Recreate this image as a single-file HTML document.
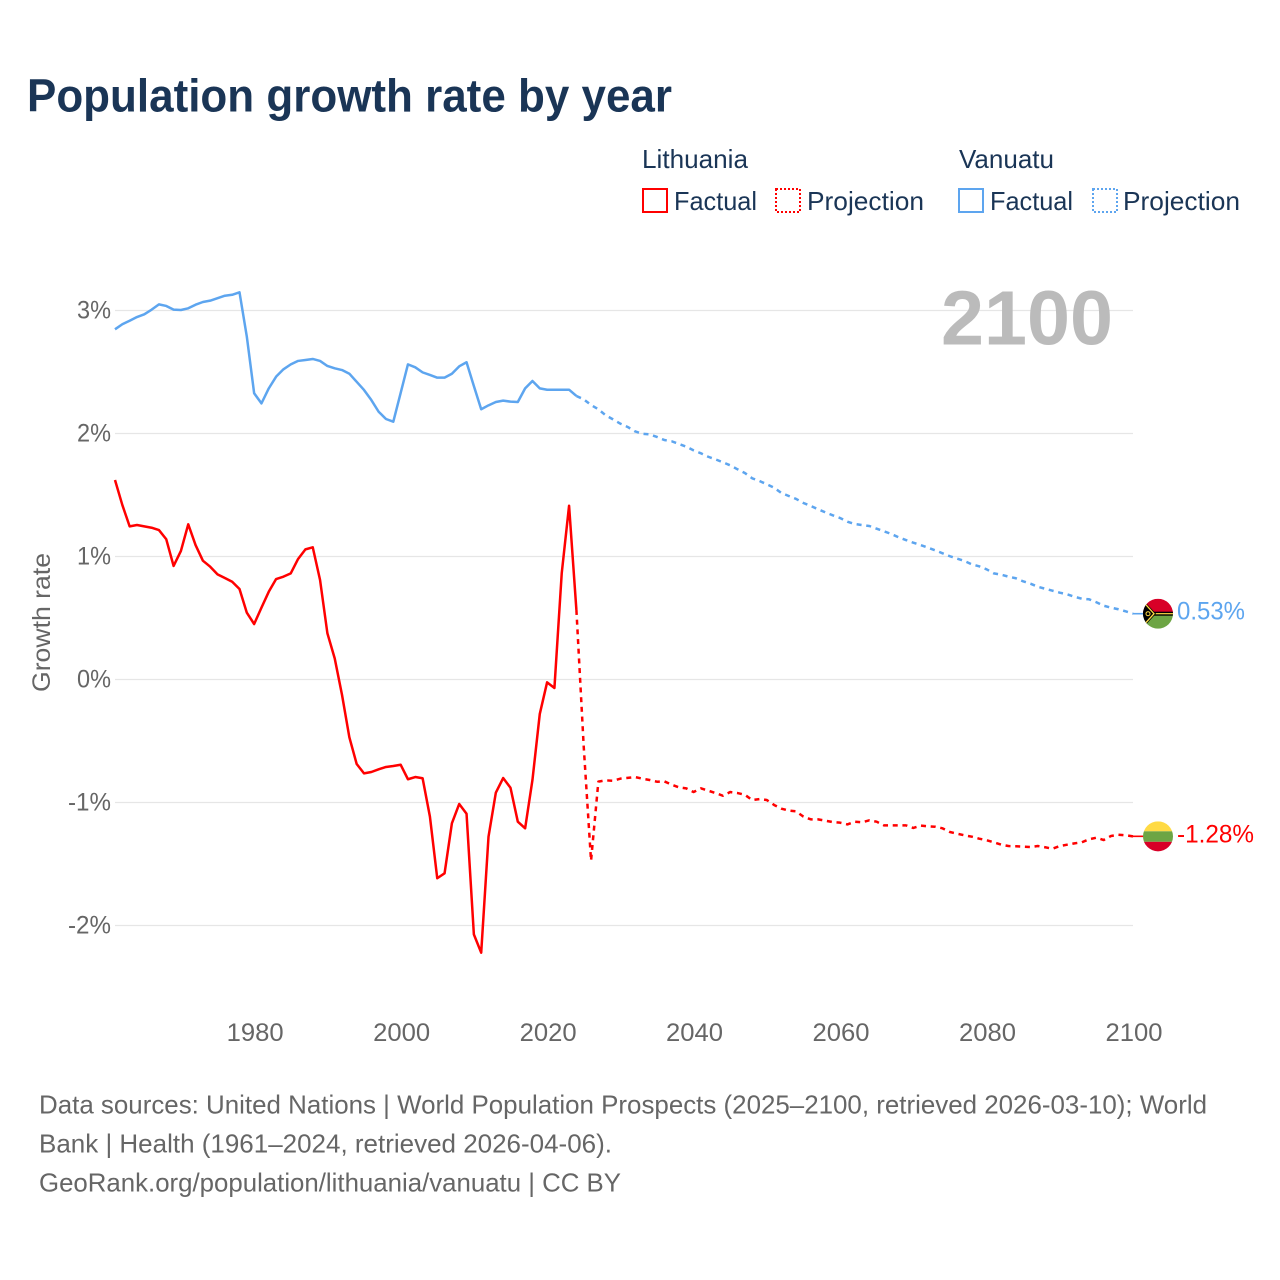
<!DOCTYPE html>
<html lang="en">
<head>
<meta charset="utf-8">
<title>Population growth rate by year</title>
<style>
html,body{margin:0;padding:0;background:#fff;}
svg{display:block;font-family:"Liberation Sans",sans-serif;}
</style>
</head>
<body>
<svg id="chart" xmlns="http://www.w3.org/2000/svg" width="1280" height="1280" viewBox="0 0 1280 1280">
  <defs>
    <clipPath id="flagClip"><circle cx="0" cy="0" r="15"/></clipPath>
  </defs>
  <rect x="0" y="0" width="1280" height="1280" fill="#ffffff"/>
  <text x="27" y="111.5" font-size="46" font-weight="700" fill="#1a3556" textLength="645" lengthAdjust="spacingAndGlyphs">Population growth rate by year</text>

  <g font-size="26" fill="#1a3556">
    <text x="642" y="168" textLength="106" lengthAdjust="spacingAndGlyphs">Lithuania</text>
    <text x="959" y="168" textLength="95" lengthAdjust="spacingAndGlyphs">Vanuatu</text>
    <rect x="643" y="189" width="24" height="23" fill="none" stroke="#ff0000" stroke-width="2"/>
    <text x="674" y="210" textLength="83" lengthAdjust="spacingAndGlyphs">Factual</text>
    <rect x="776" y="189" width="24" height="23" fill="none" stroke="#ff0000" stroke-width="2" stroke-dasharray="2,2"/>
    <text x="807" y="210" textLength="117" lengthAdjust="spacingAndGlyphs">Projection</text>
    <rect x="959" y="189" width="24" height="23" fill="none" stroke="#5da5ef" stroke-width="2"/>
    <text x="990" y="210" textLength="83" lengthAdjust="spacingAndGlyphs">Factual</text>
    <rect x="1093" y="189" width="24" height="23" fill="none" stroke="#5da5ef" stroke-width="2" stroke-dasharray="2,2"/>
    <text x="1123" y="210" textLength="117" lengthAdjust="spacingAndGlyphs">Projection</text>
  </g>

  <g id="grid"></g>
  <g id="yTicks"></g>
  <g id="xTicks"></g>
  <text transform="translate(50,692) rotate(-90)" font-size="25" fill="#666666" textLength="139" lengthAdjust="spacingAndGlyphs">Growth rate</text>
  <text x="941" y="344.5" font-size="77" font-weight="700" fill="#bbbbbb" textLength="172" lengthAdjust="spacingAndGlyphs">2100</text>

  <g id="series"></g>

  <g id="flagVanuatu" clip-path="url(#flagClip)">
    <rect x="-15" y="-15" width="30" height="15" fill="#d80027"/>
    <rect x="-15" y="0" width="30" height="15" fill="#6da544"/>
    <rect x="-15" y="-2" width="30" height="4" fill="#000000"/>
    <rect x="-4" y="-0.6" width="19" height="1.2" fill="#ffda44"/>
    <polygon points="-15,-14 -2,0 -15,14" fill="#000000"/>
    <polyline points="-13,-10 -4,0 -13,10" fill="none" stroke="#ffda44" stroke-width="1.3"/>
    <circle cx="-10" cy="0" r="2" fill="none" stroke="#ffda44" stroke-width="1"/>
  </g>
  <g id="flagLithuania" clip-path="url(#flagClip)">
    <rect x="-15" y="-15" width="30" height="10" fill="#ffda44"/>
    <rect x="-15" y="-5" width="30" height="10.5" fill="#6da544"/>
    <rect x="-15" y="5.5" width="30" height="10" fill="#d80027"/>
  </g>
  <g id="endLabels"></g>

  <g font-size="26" fill="#666666">
    <text x="39" y="1113.5" textLength="1168" lengthAdjust="spacingAndGlyphs">Data sources: United Nations | World Population Prospects (2025–2100, retrieved 2026-03-10); World</text>
    <text x="39" y="1152.5" textLength="573" lengthAdjust="spacingAndGlyphs">Bank | Health (1961–2024, retrieved 2026-04-06).</text>
    <text x="39" y="1191.5" textLength="582" lengthAdjust="spacingAndGlyphs">GeoRank.org/population/lithuania/vanuatu | CC BY</text>
  </g>
</svg>
<script>
const factualStartYear = 1961;
const projectionStartYear = 2024;
const yTickValues = [3, 2, 1, 0, -1, -2];
const yTickLabels = ["3%", "2%", "1%", "0%", "-1%", "-2%"];
const xTickValues = [1980, 2000, 2020, 2040, 2060, 2080, 2100];
const xTickLabels = ["1980", "2000", "2020", "2040", "2060", "2080", "2100"];
const endLabelVanuatu = "0.53%";
const endLabelLithuania = "-1.28%";

const vanuatuFactual = [
  2.847,2.888,2.917,2.947,2.969,3.007,3.05,3.037,3.007,3.004,
  3.018,3.047,3.069,3.08,3.10,3.12,3.128,3.148,2.787,2.327,
  2.245,2.367,2.462,2.522,2.562,2.59,2.598,2.606,2.59,2.549,
  2.53,2.516,2.486,2.42,2.354,2.272,2.177,2.118,2.096,2.329,
  2.562,2.538,2.497,2.476,2.454,2.454,2.486,2.546,2.579,2.386,
  2.197,2.229,2.256,2.267,2.259,2.256,2.367,2.427,2.367,2.356,
  2.356,2.356,2.356,2.305
];
const vanuatuProjection = [
  2.305,2.278,2.232,2.197,2.148,2.115,2.08,2.053,2.018,1.998,
  1.993,1.972,1.947,1.937,1.915,1.893,1.863,1.839,1.811,1.79,
  1.766,1.741,1.709,1.679,1.636,1.614,1.587,1.559,1.516,1.492,
  1.468,1.435,1.411,1.384,1.359,1.335,1.313,1.283,1.264,1.256,
  1.248,1.226,1.205,1.183,1.156,1.134,1.112,1.093,1.072,1.05,
  1.026,1.002,0.982,0.963,0.936,0.92,0.896,0.863,0.852,0.836,
  0.823,0.798,0.779,0.754,0.738,0.722,0.706,0.693,0.673,0.657,
  0.652,0.628,0.6,0.584,0.571,0.554,0.535
];
const lithuaniaFactual = [
  1.622,1.419,1.245,1.256,1.245,1.234,1.215,1.14,0.923,1.045,
  1.262,1.093,0.966,0.917,0.855,0.825,0.795,0.736,0.543,0.451,
  0.584,0.714,0.817,0.836,0.863,0.98,1.058,1.075,0.809,0.376,
  0.172,-0.126,-0.47,-0.687,-0.763,-0.752,-0.73,-0.711,-0.703,-0.693,
  -0.811,-0.793,-0.803,-1.115,-1.616,-1.576,-1.169,-1.012,-1.091,-2.072,
  -2.221,-1.278,-0.92,-0.801,-0.88,-1.156,-1.21,-0.817,-0.28,-0.023,
  -0.069,0.866,1.413,0.565
];
const lithuaniaProjection = [
  0.565,-0.546,-1.473,-0.83,-0.82,-0.823,-0.806,-0.80,-0.793,-0.806,
  -0.817,-0.831,-0.828,-0.855,-0.877,-0.885,-0.915,-0.885,-0.904,-0.923,
  -0.945,-0.915,-0.923,-0.937,-0.98,-0.972,-0.98,-1.02,-1.05,-1.066,
  -1.072,-1.115,-1.137,-1.137,-1.148,-1.159,-1.164,-1.178,-1.156,-1.161,
  -1.145,-1.156,-1.186,-1.186,-1.186,-1.186,-1.207,-1.188,-1.194,-1.197,
  -1.21,-1.24,-1.254,-1.267,-1.278,-1.294,-1.307,-1.324,-1.343,-1.354,
  -1.356,-1.359,-1.362,-1.354,-1.364,-1.376,-1.354,-1.343,-1.332,-1.324,
  -1.299,-1.286,-1.305,-1.272,-1.262,-1.267,-1.275
];

const NS = "http://www.w3.org/2000/svg";
const plotLeft = 115, plotRight = 1133;
function xScale(year) { return plotLeft + (year - 1961) * (plotRight - plotLeft) / 139; }
function yScale(v) { return 679.5 - v * 123; }

function make(tag, attrs, parent) {
  const el = document.createElementNS(NS, tag);
  for (const k in attrs) el.setAttribute(k, attrs[k]);
  parent.appendChild(el);
  return el;
}

const grid = document.getElementById("grid");
const yTicks = document.getElementById("yTicks");
yTickValues.forEach(function (v, i) {
  const line = make("line", { x1: plotLeft, x2: plotRight, y1: yScale(v), y2: yScale(v), stroke: "#e6e6e6", "stroke-width": 1.2 }, grid);
  
  
  const label = make("text", { x: 111, y: yScale(v) + 8, "text-anchor": "end", "font-size": 25, fill: "#666666", textLength: yTickLabels[i].length === 3 ? 43 : 34, lengthAdjust: "spacingAndGlyphs" }, yTicks);
  
  
  label.textContent = yTickLabels[i];
});

const xTicks = document.getElementById("xTicks");
xTickValues.forEach(function (v, i) {
  const label = make("text", { x: xScale(v) + 1, y: 1041, "text-anchor": "middle", "font-size": 25, fill: "#666666", textLength: 57, lengthAdjust: "spacingAndGlyphs" }, xTicks);
  
  
  label.textContent = xTickLabels[i];
});

function pathFor(values, startYear) {
  return values.map(function (v, i) {
    return (i ? "L" : "M") + xScale(startYear + i).toFixed(2) + " " + yScale(v).toFixed(2);
  }).join("");
}

const seriesGroup = document.getElementById("series");
function drawSeries(values, startYear, color, dashed) {
  const p = make("path", { d: pathFor(values, startYear), fill: "none", stroke: color, "stroke-width": 2.5, "stroke-linejoin": "round" }, seriesGroup);
  if (dashed) p.setAttribute("stroke-dasharray", "5,4.7");
  return p;
}
const lineVF = drawSeries(vanuatuFactual, factualStartYear, "#5da5ef", false);


const lineVP = drawSeries(vanuatuProjection, projectionStartYear, "#5da5ef", true);


const lineLF = drawSeries(lithuaniaFactual, factualStartYear, "#ff0000", false);


const lineLP = drawSeries(lithuaniaProjection, projectionStartYear, "#ff0000", true);



const endY_V = yScale(vanuatuProjection[vanuatuProjection.length - 1]);
const endY_L = yScale(lithuaniaProjection[lithuaniaProjection.length - 1]);
const flagX = 1158;

const leaderV = make("line", { x1: plotRight, x2: flagX - 14, y1: endY_V, y2: endY_V, stroke: "#5da5ef", "stroke-width": 1.6 }, seriesGroup);


const leaderL = make("line", { x1: plotRight, x2: flagX - 14, y1: endY_L, y2: endY_L, stroke: "#ff0000", "stroke-width": 1.6 }, seriesGroup);



document.getElementById("flagVanuatu").setAttribute("transform", "translate(" + flagX + "," + endY_V + ")");
document.getElementById("flagLithuania").setAttribute("transform", "translate(" + flagX + "," + endY_L + ")");

const endGroup = document.getElementById("endLabels");
const labelV = make("text", { x: 1177, y: endY_V + 6, "font-size": 25, fill: "#5da5ef", textLength: 68, lengthAdjust: "spacingAndGlyphs" }, endGroup);


labelV.textContent = endLabelVanuatu;
const labelL = make("text", { x: 1177, y: endY_L + 6, "font-size": 25, fill: "#ff0000", textLength: 77, lengthAdjust: "spacingAndGlyphs" }, endGroup);


labelL.textContent = endLabelLithuania;
</script>
</body>
</html>
